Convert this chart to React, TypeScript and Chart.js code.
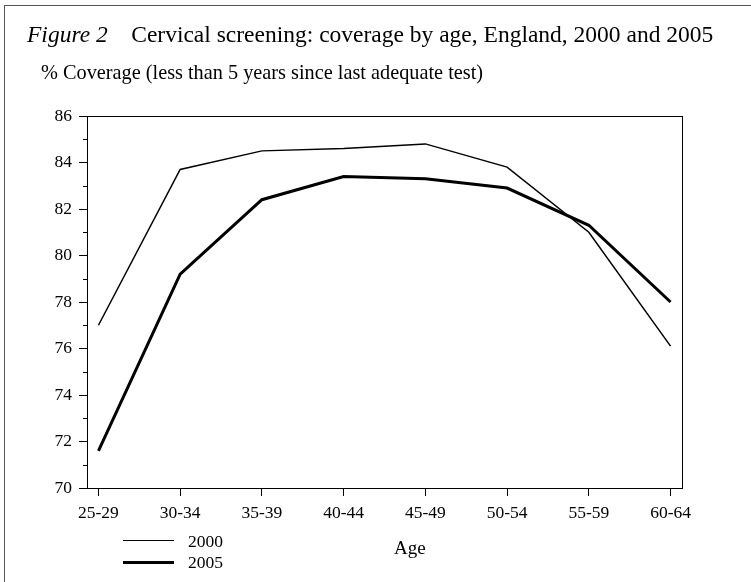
import React, { useEffect, useRef } from "react";
import { Chart, registerables } from "chart.js";

Chart.register(...registerables);

const categories = ["25-29", "30-34", "35-39", "40-44", "45-49", "50-54", "55-59", "60-64"];
const values2000 = [77.0, 83.7, 84.5, 84.6, 84.8, 83.8, 81.0, 76.1];
const values2005 = [71.6, 79.2, 82.4, 83.4, 83.3, 82.9, 81.3, 78.0];
const yMin = 70;
const yMax = 86;
const yStep = 2;
const minorTicks = [71, 73, 75, 77, 79, 81, 83, 85];
const seriesNames = ["2000", "2005"];

const SERIF = '"Liberation Serif", "Times New Roman", Times, serif';
const W = 751;
const H = 582;

const framePlugin = {
  id: "frameAndMinor",
  afterDatasetsDraw(chart: any) {
    const { ctx, chartArea } = chart;
    const y = chart.scales.y;
    ctx.save();
    ctx.strokeStyle = "#000";
    ctx.lineWidth = 1;
    ctx.strokeRect(
      Math.round(chartArea.left) + 0.5,
      Math.round(chartArea.top) + 0.5,
      Math.round(chartArea.right) - Math.round(chartArea.left),
      Math.round(chartArea.bottom) - Math.round(chartArea.top)
    );
    for (const v of minorTicks) {
      const py = Math.round(y.getPixelForValue(v)) + 0.5;
      ctx.beginPath();
      ctx.moveTo(chartArea.left - 4, py);
      ctx.lineTo(chartArea.left, py);
      ctx.stroke();
    }
    ctx.restore();
  },
};

export default function App() {
  const ref = useRef<HTMLCanvasElement | null>(null);

  useEffect(() => {
    if (!ref.current) return;
    const tickFont = { family: SERIF, size: 17.5 };
    const chart = new Chart(ref.current, {
      type: "line",
      data: {
        datasets: [
          {
            label: seriesNames[0],
            data: values2000.map((v, i) => ({ x: i, y: v })),
            borderColor: "#000",
            borderWidth: 1.5,
            pointRadius: 0,
            tension: 0,
            fill: false,
          },
          {
            label: seriesNames[1],
            data: values2005.map((v, i) => ({ x: i, y: v })),
            borderColor: "#000",
            borderWidth: 3,
            pointRadius: 0,
            tension: 0,
            fill: false,
          },
        ],
      },
      options: {
        responsive: false,
        animation: false,
        devicePixelRatio: 1,
        layout: { padding: { left: 0, top: 116, right: 69, bottom: 54 } },
        plugins: {
          legend: { display: false },
          tooltip: { enabled: false },
          title: { display: false },
        },
        scales: {
          x: {
            type: "linear",
            min: -0.14,
            max: 7.14,
            afterBuildTicks: (s: any) => {
              s.ticks = categories.map((_, i) => ({ value: i }));
            },
            afterFit: (s: any) => {
              s.height = 40;
            },
            grid: {
              display: true,
              drawOnChartArea: false,
              drawTicks: true,
              tickLength: 8,
              color: "#000",
              lineWidth: 1,
            },
            border: { display: true, color: "#000", width: 1 },
            ticks: {
              autoSkip: false,
              maxRotation: 0,
              padding: 7,
              color: "#000",
              font: tickFont,
              callback: (v: any) => categories[Math.round(Number(v))] ?? "",
            },
          },
          y: {
            min: yMin,
            max: yMax,
            afterFit: (s: any) => {
              s.width = 87;
            },
            grid: {
              display: true,
              drawOnChartArea: false,
              drawTicks: true,
              tickLength: 8,
              color: "#000",
              lineWidth: 1,
            },
            border: { display: true, color: "#000", width: 1 },
            ticks: {
              stepSize: yStep,
              padding: 7,
              color: "#000",
              font: tickFont,
            },
          },
        },
      } as any,
      plugins: [framePlugin],
    });
    return () => chart.destroy();
  }, []);

  const textStyle: React.CSSProperties = {
    position: "absolute",
    fontFamily: SERIF,
    color: "#000",
    whiteSpace: "nowrap",
    lineHeight: 1,
  };

  return (
    <div
      style={{
        position: "fixed",
        left: 0,
        top: 0,
        width: W,
        height: H,
        background: "#fff",
        overflow: "hidden",
      }}
    >
      <canvas ref={ref} width={W} height={H} style={{ position: "absolute", left: 0, top: 0, display: "block" }} />
      <div
        style={{
          position: "absolute",
          left: 4,
          top: 5,
          right: -10,
          bottom: -10,
          borderLeft: "1.5px solid #555",
          borderTop: "1.5px solid #555",
          pointerEvents: "none",
        }}
      />
      <div style={{ ...textStyle, left: 27, top: 23, fontSize: 23.5 }}>
        <span style={{ fontStyle: "italic" }}>Figure 2</span>
        <span style={{ marginLeft: 23.5 }}>Cervical screening: coverage by age, England, 2000 and 2005</span>
      </div>
      <div style={{ ...textStyle, left: 41, top: 62, fontSize: 20.3 }}>
        % Coverage (less than 5 years since last adequate test)
      </div>
      <div style={{ ...textStyle, left: 394, top: 538, fontSize: 19 }}>Age</div>
      <div style={{ position: "absolute", left: 123, top: 540, width: 51, height: 0, borderTop: "1.5px solid #000" }} />
      <div style={{ position: "absolute", left: 123, top: 561, width: 51, height: 0, borderTop: "3px solid #000" }} />
      <div style={{ ...textStyle, left: 188, top: 533, fontSize: 17.5 }}>{seriesNames[0]}</div>
      <div style={{ ...textStyle, left: 188, top: 554, fontSize: 17.5 }}>{seriesNames[1]}</div>
    </div>
  );
}
